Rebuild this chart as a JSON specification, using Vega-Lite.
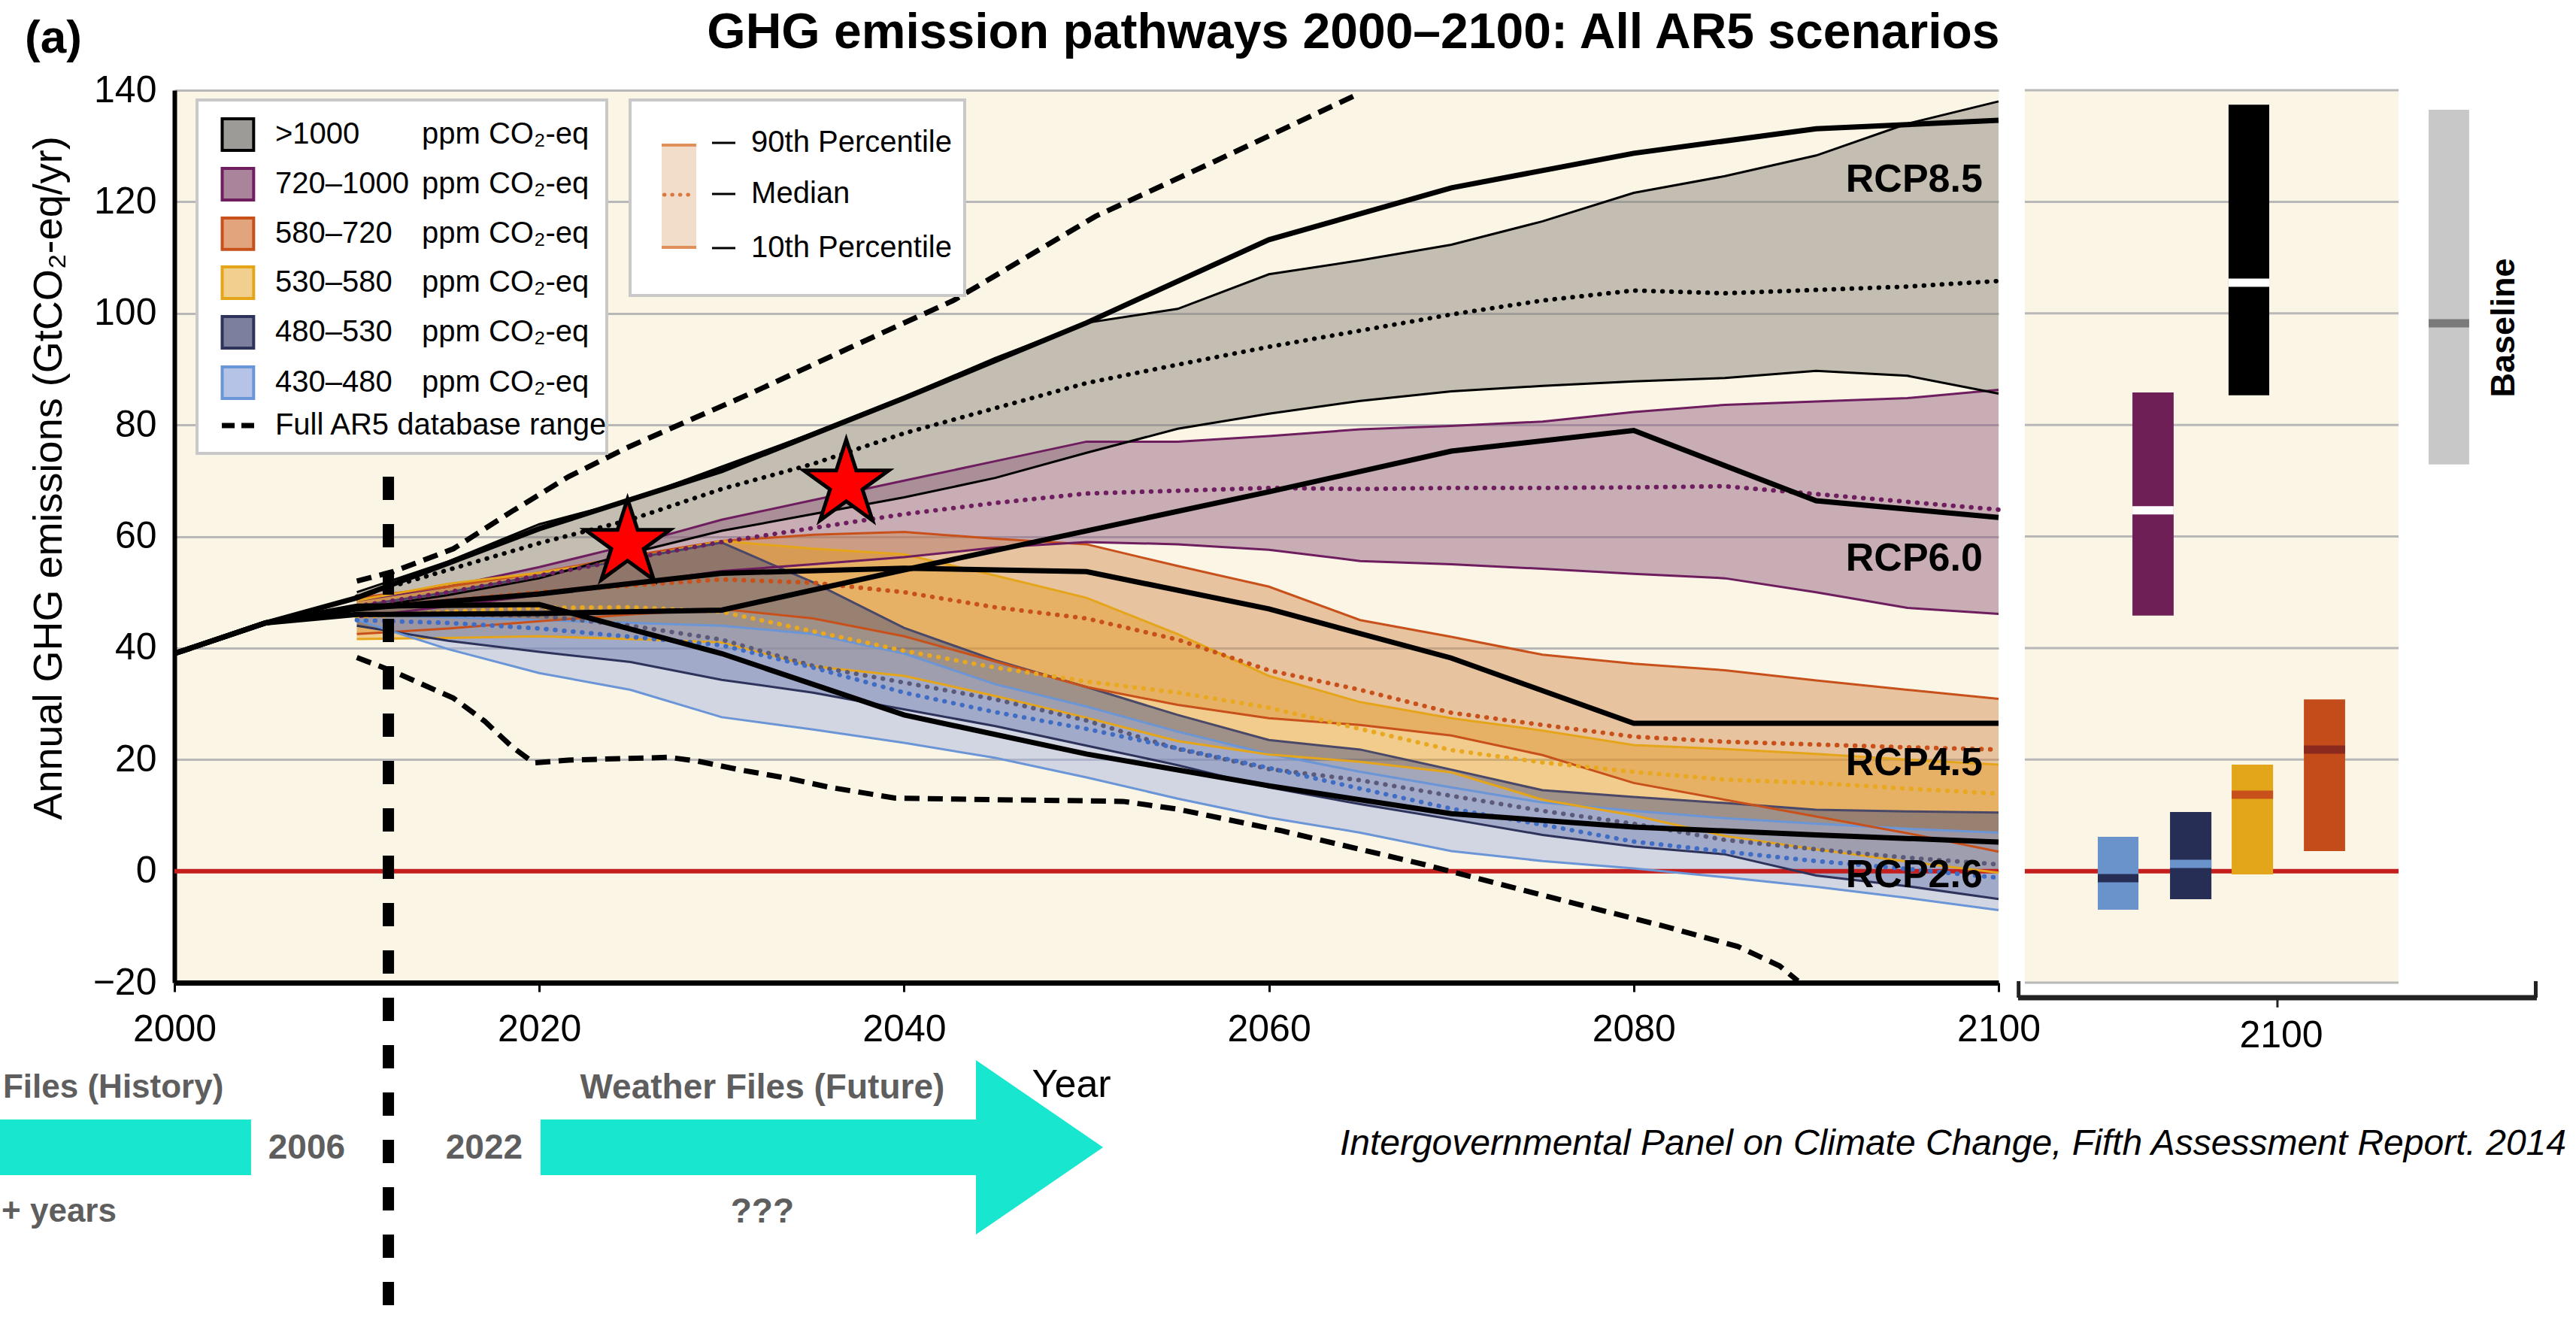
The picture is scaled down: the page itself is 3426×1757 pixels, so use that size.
{
"$schema": "https://vega.github.io/schema/vega-lite/v6.json",
"width": 2426,
"height": 1187,
"autosize": {"type": "none"},
"padding": {"left": 232, "top": 120, "right": 768, "bottom": 450},
"background": "#FFFFFF",
"config": {
  "view": {"fill": "#FBF5E6", "stroke": null},
  "font": "'Liberation Sans', Arial, sans-serif",
  "axisX": {"grid": false, "domainColor": "#000000", "domainWidth": 7, "ticks": true, "tickSize": 12, "tickWidth": 3, "tickColor": "#000000",
    "labelFontSize": 50, "labelPadding": 25, "labelColor": "#000000", "labelFlush": false, "labelOverlap": false, "labelBound": false, "titleFontSize": 1, "titleColor": "#FFFFFF"},
  "axisY": {"grid": true, "gridColor": "#B8B8B8", "gridWidth": 3, "domainColor": "#000000", "domainWidth": 6, "ticks": false, "tickSize": 0,
    "labelFontSize": 50, "labelPadding": 24, "labelColor": "#000000", "labelOverlap": false, "labelFlush": false, "labelBound": false, "titleFontSize": 1, "titleColor": "#FFFFFF"}
},
"datasets": {
"bands": [
{"cat":">1000","year":2010,"lo":47,"med":49.2,"hi":50},
{"cat":">1000","year":2015,"lo":49.5,"med":54,"hi":55.5},
{"cat":">1000","year":2020,"lo":52.5,"med":58.8,"hi":62.2},
{"cat":">1000","year":2025,"lo":57,"med":63,"hi":66.5},
{"cat":">1000","year":2030,"lo":61,"med":68.5,"hi":72.5},
{"cat":">1000","year":2035,"lo":64,"med":73,"hi":78.5},
{"cat":">1000","year":2040,"lo":67,"med":78.5,"hi":85},
{"cat":">1000","year":2045,"lo":70.5,"med":83,"hi":92},
{"cat":">1000","year":2050,"lo":75,"med":87.5,"hi":98.3},
{"cat":">1000","year":2055,"lo":79.3,"med":90.8,"hi":100.8},
{"cat":">1000","year":2060,"lo":82,"med":94,"hi":107},
{"cat":">1000","year":2065,"lo":84.3,"med":96.9,"hi":109.5},
{"cat":">1000","year":2070,"lo":86,"med":99.8,"hi":112.3},
{"cat":">1000","year":2075,"lo":87,"med":102.3,"hi":116.5},
{"cat":">1000","year":2080,"lo":87.8,"med":104.1,"hi":121.6},
{"cat":">1000","year":2085,"lo":88.4,"med":103.6,"hi":124.6},
{"cat":">1000","year":2090,"lo":89.7,"med":104.2,"hi":128.3},
{"cat":">1000","year":2095,"lo":88.8,"med":104.8,"hi":134},
{"cat":">1000","year":2100,"lo":85.6,"med":105.8,"hi":138},
{"cat":"720–1000","year":2010,"lo":45.5,"med":47.5,"hi":48.5},
{"cat":"720–1000","year":2015,"lo":47.5,"med":50,"hi":51},
{"cat":"720–1000","year":2020,"lo":49.5,"med":53,"hi":54.5},
{"cat":"720–1000","year":2025,"lo":51.5,"med":56,"hi":58.5},
{"cat":"720–1000","year":2030,"lo":53.8,"med":59,"hi":63},
{"cat":"720–1000","year":2035,"lo":55,"med":61.5,"hi":66.5},
{"cat":"720–1000","year":2040,"lo":56.3,"med":64,"hi":70},
{"cat":"720–1000","year":2045,"lo":58,"med":66,"hi":73.5},
{"cat":"720–1000","year":2050,"lo":59,"med":67.7,"hi":77},
{"cat":"720–1000","year":2055,"lo":58.6,"med":68.2,"hi":77},
{"cat":"720–1000","year":2060,"lo":57.6,"med":68.7,"hi":78},
{"cat":"720–1000","year":2065,"lo":55.6,"med":68.5,"hi":79.2},
{"cat":"720–1000","year":2070,"lo":55,"med":68.7,"hi":79.8},
{"cat":"720–1000","year":2075,"lo":54.2,"med":68.7,"hi":80.6},
{"cat":"720–1000","year":2080,"lo":53.3,"med":68.8,"hi":82.3},
{"cat":"720–1000","year":2085,"lo":52.5,"med":69,"hi":83.6},
{"cat":"720–1000","year":2090,"lo":50,"med":67.6,"hi":84.2},
{"cat":"720–1000","year":2095,"lo":47.2,"med":66.2,"hi":84.8},
{"cat":"720–1000","year":2100,"lo":46.1,"med":64.8,"hi":86.3},
{"cat":"580–720","year":2010,"lo":42.5,"med":47,"hi":49},
{"cat":"580–720","year":2015,"lo":43.5,"med":48.5,"hi":51},
{"cat":"580–720","year":2020,"lo":44.8,"med":50,"hi":53.5},
{"cat":"580–720","year":2025,"lo":46,"med":51.2,"hi":56.5},
{"cat":"580–720","year":2030,"lo":47,"med":52.3,"hi":59.2},
{"cat":"580–720","year":2035,"lo":45.3,"med":51.7,"hi":60.3},
{"cat":"580–720","year":2040,"lo":42.1,"med":50,"hi":60.8},
{"cat":"580–720","year":2045,"lo":37.6,"med":47.3,"hi":59.6},
{"cat":"580–720","year":2050,"lo":33,"med":45.3,"hi":58.6},
{"cat":"580–720","year":2055,"lo":29.8,"med":41.5,"hi":54.7},
{"cat":"580–720","year":2060,"lo":27.4,"med":36,"hi":51},
{"cat":"580–720","year":2065,"lo":26.2,"med":32.5,"hi":45},
{"cat":"580–720","year":2070,"lo":24.3,"med":28.4,"hi":42},
{"cat":"580–720","year":2075,"lo":20.8,"med":26.2,"hi":38.8},
{"cat":"580–720","year":2080,"lo":15.8,"med":24.1,"hi":37.2},
{"cat":"580–720","year":2085,"lo":12.8,"med":23.2,"hi":36},
{"cat":"580–720","year":2090,"lo":9.8,"med":22.7,"hi":34.2},
{"cat":"580–720","year":2095,"lo":6.8,"med":22.2,"hi":32.5},
{"cat":"580–720","year":2100,"lo":3.5,"med":21.8,"hi":30.9},
{"cat":"530–580","year":2010,"lo":41.6,"med":45.5,"hi":48.5},
{"cat":"530–580","year":2015,"lo":41.8,"med":46.5,"hi":51.5},
{"cat":"530–580","year":2020,"lo":42.1,"med":47.2,"hi":53.5},
{"cat":"530–580","year":2025,"lo":41.6,"med":47.3,"hi":56},
{"cat":"530–580","year":2030,"lo":41,"med":46.5,"hi":59.2},
{"cat":"530–580","year":2035,"lo":36.7,"med":43,"hi":57.8},
{"cat":"530–580","year":2040,"lo":35,"med":39.5,"hi":56.8},
{"cat":"530–580","year":2045,"lo":31.4,"med":36.5,"hi":53},
{"cat":"530–580","year":2050,"lo":27.5,"med":34,"hi":49},
{"cat":"530–580","year":2055,"lo":23.3,"med":32,"hi":42.5},
{"cat":"530–580","year":2060,"lo":20.9,"med":29.3,"hi":35},
{"cat":"530–580","year":2065,"lo":19.6,"med":25.5,"hi":30.3},
{"cat":"530–580","year":2070,"lo":17.7,"med":21.7,"hi":27.4},
{"cat":"530–580","year":2075,"lo":12.8,"med":19.5,"hi":25.2},
{"cat":"530–580","year":2080,"lo":10,"med":17.8,"hi":22.6},
{"cat":"530–580","year":2085,"lo":6.3,"med":16.4,"hi":21.9},
{"cat":"530–580","year":2090,"lo":3.9,"med":15.8,"hi":21},
{"cat":"530–580","year":2095,"lo":1.7,"med":14.8,"hi":20},
{"cat":"530–580","year":2100,"lo":-0.3,"med":13.9,"hi":19.1},
{"cat":"480–530","year":2010,"lo":44,"med":46,"hi":47.5},
{"cat":"480–530","year":2015,"lo":41.3,"med":46,"hi":50},
{"cat":"480–530","year":2020,"lo":39.3,"med":45.8,"hi":53},
{"cat":"480–530","year":2025,"lo":37.5,"med":44,"hi":56},
{"cat":"480–530","year":2030,"lo":34.3,"med":41.5,"hi":58.9},
{"cat":"480–530","year":2035,"lo":32,"med":36.8,"hi":51.8},
{"cat":"480–530","year":2040,"lo":29,"med":33.8,"hi":43.6},
{"cat":"480–530","year":2045,"lo":26,"med":30.8,"hi":37.8},
{"cat":"480–530","year":2050,"lo":22.5,"med":27,"hi":33},
{"cat":"480–530","year":2055,"lo":19,"med":21.9,"hi":28},
{"cat":"480–530","year":2060,"lo":15,"med":18.3,"hi":23.5},
{"cat":"480–530","year":2065,"lo":12,"med":16.3,"hi":21.8},
{"cat":"480–530","year":2070,"lo":9.3,"med":13.5,"hi":18.2},
{"cat":"480–530","year":2075,"lo":6.5,"med":10.8,"hi":14.5},
{"cat":"480–530","year":2080,"lo":4.4,"med":8.5,"hi":13.3},
{"cat":"480–530","year":2085,"lo":3,"med":5.6,"hi":12.2},
{"cat":"480–530","year":2090,"lo":-0.8,"med":3.9,"hi":11},
{"cat":"480–530","year":2095,"lo":-2.7,"med":2.4,"hi":10.7},
{"cat":"480–530","year":2100,"lo":-5,"med":1.2,"hi":10.5},
{"cat":"430–480","year":2010,"lo":45,"med":45,"hi":46},
{"cat":"430–480","year":2015,"lo":39.8,"med":44.5,"hi":45.5},
{"cat":"430–480","year":2020,"lo":35.5,"med":43.5,"hi":45},
{"cat":"430–480","year":2025,"lo":32.5,"med":42,"hi":44.5},
{"cat":"430–480","year":2030,"lo":27.6,"med":40.5,"hi":44},
{"cat":"430–480","year":2035,"lo":25.4,"med":36.5,"hi":42.5},
{"cat":"430–480","year":2040,"lo":23,"med":32,"hi":39},
{"cat":"430–480","year":2045,"lo":20.3,"med":28.5,"hi":33.5},
{"cat":"430–480","year":2050,"lo":16.8,"med":25.5,"hi":29.5},
{"cat":"430–480","year":2055,"lo":13,"med":22,"hi":25},
{"cat":"430–480","year":2060,"lo":9.6,"med":18.5,"hi":21},
{"cat":"430–480","year":2065,"lo":6.9,"med":14.8,"hi":17.8},
{"cat":"430–480","year":2070,"lo":3.6,"med":11.2,"hi":15},
{"cat":"430–480","year":2075,"lo":1.8,"med":8.3,"hi":12.3},
{"cat":"430–480","year":2080,"lo":0.5,"med":5.3,"hi":10.8},
{"cat":"430–480","year":2085,"lo":-1.1,"med":3.5,"hi":9.5},
{"cat":"430–480","year":2090,"lo":-2.8,"med":1.8,"hi":8.5},
{"cat":"430–480","year":2095,"lo":-4.8,"med":0.4,"hi":7.6},
{"cat":"430–480","year":2100,"lo":-7,"med":-1.2,"hi":6.9}
],
"rcp": [
{"rcp":"RCP8.5","year":2000,"v":39},{"rcp":"RCP8.5","year":2005,"v":44.5},{"rcp":"RCP8.5","year":2010,"v":49},{"rcp":"RCP8.5","year":2020,"v":61.4},{"rcp":"RCP8.5","year":2030,"v":71.8},{"rcp":"RCP8.5","year":2040,"v":84.8},{"rcp":"RCP8.5","year":2050,"v":98.3},{"rcp":"RCP8.5","year":2060,"v":113.2},{"rcp":"RCP8.5","year":2070,"v":122.5},{"rcp":"RCP8.5","year":2080,"v":128.7},{"rcp":"RCP8.5","year":2090,"v":133.1},{"rcp":"RCP8.5","year":2100,"v":134.6},
{"rcp":"RCP6.0","year":2000,"v":39},{"rcp":"RCP6.0","year":2005,"v":44.5},{"rcp":"RCP6.0","year":2010,"v":46},{"rcp":"RCP6.0","year":2020,"v":46.2},{"rcp":"RCP6.0","year":2030,"v":46.8},{"rcp":"RCP6.0","year":2040,"v":54},{"rcp":"RCP6.0","year":2050,"v":61},{"rcp":"RCP6.0","year":2060,"v":68},{"rcp":"RCP6.0","year":2070,"v":75.3},{"rcp":"RCP6.0","year":2080,"v":79},{"rcp":"RCP6.0","year":2090,"v":66.4},{"rcp":"RCP6.0","year":2100,"v":63.4},
{"rcp":"RCP4.5","year":2000,"v":39},{"rcp":"RCP4.5","year":2005,"v":44.5},{"rcp":"RCP4.5","year":2010,"v":47},{"rcp":"RCP4.5","year":2020,"v":49.7},{"rcp":"RCP4.5","year":2030,"v":53.4},{"rcp":"RCP4.5","year":2040,"v":54.3},{"rcp":"RCP4.5","year":2050,"v":53.7},{"rcp":"RCP4.5","year":2060,"v":47},{"rcp":"RCP4.5","year":2070,"v":38.2},{"rcp":"RCP4.5","year":2080,"v":26.5},{"rcp":"RCP4.5","year":2090,"v":26.5},{"rcp":"RCP4.5","year":2100,"v":26.5},
{"rcp":"RCP2.6","year":2000,"v":39},{"rcp":"RCP2.6","year":2005,"v":44.5},{"rcp":"RCP2.6","year":2010,"v":47.5},{"rcp":"RCP2.6","year":2020,"v":47.8},{"rcp":"RCP2.6","year":2030,"v":39},{"rcp":"RCP2.6","year":2040,"v":28},{"rcp":"RCP2.6","year":2050,"v":21},{"rcp":"RCP2.6","year":2060,"v":15.3},{"rcp":"RCP2.6","year":2070,"v":10.3},{"rcp":"RCP2.6","year":2080,"v":7.9},{"rcp":"RCP2.6","year":2090,"v":6.5},{"rcp":"RCP2.6","year":2100,"v":5.2}
],
"ar5": [
{"side":"upper","year":2010,"v":52},{"side":"upper","year":2012,"v":53.7},{"side":"upper","year":2015.3,"v":57.8},{"side":"upper","year":2018.5,"v":64.5},{"side":"upper","year":2021.6,"v":70.7},{"side":"upper","year":2024.8,"v":75.9},{"side":"upper","year":2028,"v":80.5},{"side":"upper","year":2031.7,"v":85.8},{"side":"upper","year":2037,"v":93.8},{"side":"upper","year":2042.7,"v":102.3},{"side":"upper","year":2050.5,"v":117.4},{"side":"upper","year":2057,"v":127.2},{"side":"upper","year":2065,"v":139.5},
{"side":"lower","year":2010,"v":38.3},{"side":"lower","year":2012,"v":35.8},{"side":"lower","year":2015.3,"v":31},{"side":"lower","year":2017,"v":26.9},{"side":"lower","year":2018.5,"v":22.3},{"side":"lower","year":2019.7,"v":19.4},{"side":"lower","year":2021.6,"v":19.9},{"side":"lower","year":2024.8,"v":20.2},{"side":"lower","year":2027.1,"v":20.4},{"side":"lower","year":2028.7,"v":19.7},{"side":"lower","year":2031.1,"v":18.1},{"side":"lower","year":2033.7,"v":16.6},{"side":"lower","year":2035.8,"v":15.1},{"side":"lower","year":2039.5,"v":13.1},{"side":"lower","year":2045,"v":12.8},{"side":"lower","year":2050,"v":12.6},{"side":"lower","year":2052,"v":12.5},{"side":"lower","year":2055,"v":11.1},{"side":"lower","year":2060.6,"v":7.3},{"side":"lower","year":2068.5,"v":1.2},{"side":"lower","year":2077,"v":-6},{"side":"lower","year":2081.7,"v":-9.9},{"side":"lower","year":2085.7,"v":-13.5},{"side":"lower","year":2088,"v":-17},{"side":"lower","year":2089,"v":-19.7}
],
"stars": [{"year":2024.84,"v":58.71},{"year":2036.83,"v":69.36}],
"rgrid": [{"g":-20},{"g":20},{"g":40},{"g":60},{"g":80},{"g":100},{"g":120},{"g":140}],
"bars": [
{"cat":"430–480","p1":2105.44,"p2":2107.67,"lo":-6.92,"hi":6.15,"med":-1.26},
{"cat":"480–530","p1":2109.4,"p2":2111.67,"lo":-5.03,"hi":10.6,"med":1.3},
{"cat":"530–580","p1":2112.78,"p2":2115.05,"lo":-0.6,"hi":19.1,"med":13.7},
{"cat":"580–720","p1":2116.74,"p2":2119.0,"lo":3.6,"hi":30.8,"med":21.8},
{"cat":"720–1000","p1":2107.34,"p2":2109.6,"lo":45.8,"hi":85.8,"med":64.7},
{"cat":">1000","p1":2112.61,"p2":2114.84,"lo":85.3,"hi":137.4,"med":105.5},
{"cat":"Baseline","p1":2123.58,"p2":2125.8,"lo":72.9,"hi":136.5,"med":98.2}
],
"leg1": [
{"cat":">1000","ly":132.05},{"cat":"720–1000","ly":123.15},{"cat":"580–720","ly":114.26},{"cat":"530–580","ly":105.49},{"cat":"480–530","ly":96.6},{"cat":"430–480","ly":87.57}
],
"leg2": [{"label":"90th Percentile","ly":130.56},{"label":"Median","ly":121.4},{"label":"10th Percentile","ly":111.7}],
"rcplab": [{"label":"RCP8.5","ly":124.0},{"label":"RCP6.0","ly":56.0},{"label":"RCP4.5","ly":19.4},{"label":"RCP2.6","ly":-0.7}],
"arrowhead": [{"ax":2043.94,"at":-33.88,"ab":-65.15},{"ax":2050.91,"at":-49.51,"ab":-49.51}],
"graytextc": [{"t":"Weather Files (Future)","tx":2032.23,"ty":-38.87},{"t":"2006","tx":2007.25,"ty":-49.65},{"t":"2022","tx":2016.98,"ty":-49.65},{"t":"???","tx":2032.23,"ty":-61.1}],
"graytextl": [{"t":"Files (History)","tx":1990.6,"ty":-38.87},{"t":"+ years","tx":1990.52,"ty":-61.1}]
},
"layer": [
{
 "data": {"name": "bands"},
 "mark": {"type": "area", "fillOpacity": 0.45},
 "encoding": {
  "x": {"field": "year", "type": "quantitative",
   "scale": {"domain": [2000, 2100], "nice": false, "zero": false},
   "axis": {"title": null, "values": [2000, 2020, 2040, 2060, 2080, 2100], "format": "d", "grid": false}},
  "y": {"field": "lo", "type": "quantitative",
   "scale": {"domain": [-20, 140], "nice": false, "zero": false},
   "axis": {"title": null, "values": [-20, 0, 20, 40, 60, 80, 100, 120, 140], "format": "d", "grid": true}},
  "y2": {"field": "hi"},
  "fill": {"field": "cat", "type": "nominal", "legend": null,
   "scale": {"domain": [">1000", "720–1000", "580–720", "530–580", "480–530", "430–480"],
    "range": ["#807C74", "#8C5779", "#D1884A", "#E79C1E", "#3A4682", "#A0B0DD"]}}
 }
},
{
 "data": {"values": [{}]},
 "mark": {"type": "rule", "color": "#C41F1E", "strokeWidth": 6},
 "encoding": {
  "x": {"datum": 2000, "type": "quantitative"},
  "x2": {"datum": 2100},
  "y": {"datum": 0, "type": "quantitative"}
 }
},
{
 "data": {"name": "bands"},
 "mark": {"type": "line", "strokeWidth": 3},
 "encoding": {
  "x": {"field": "year", "type": "quantitative"},
  "y": {"field": "hi", "type": "quantitative"},
  "stroke": {"field": "cat", "type": "nominal", "legend": null,
   "scale": {"domain": [">1000", "720–1000", "580–720", "530–580", "480–530", "430–480"],
    "range": ["#000000", "#6E1E5E", "#C8501B", "#E5A51A", "#4A4868", "#6A95D6"]}}
 }
},
{
 "data": {"name": "bands"},
 "mark": {"type": "line", "strokeWidth": 3},
 "encoding": {
  "x": {"field": "year", "type": "quantitative"},
  "y": {"field": "lo", "type": "quantitative"},
  "stroke": {"field": "cat", "type": "nominal", "legend": null,
   "scale": {"domain": [">1000", "720–1000", "580–720", "530–580", "480–530", "430–480"],
    "range": ["#000000", "#6E1E5E", "#C8501B", "#E5A51A", "#2D335A", "#6A95D6"]}}
 }
},
{
 "data": {"name": "bands"},
 "mark": {"type": "line", "strokeWidth": 6, "strokeDash": [0.5, 11.5], "strokeCap": "round"},
 "encoding": {
  "x": {"field": "year", "type": "quantitative"},
  "y": {"field": "med", "type": "quantitative"},
  "stroke": {"field": "cat", "type": "nominal", "legend": null,
   "scale": {"domain": [">1000", "720–1000", "580–720", "530–580", "480–530", "430–480"],
    "range": ["#000000", "#6E1E5E", "#C8501B", "#E8A820", "#5B5A78", "#3F6CC4"]}}
 }
},
{
 "data": {"name": "ar5"},
 "mark": {"type": "line", "color": "#000000", "strokeWidth": 7, "strokeDash": [20, 11]},
 "encoding": {
  "x": {"field": "year", "type": "quantitative"},
  "y": {"field": "v", "type": "quantitative"},
  "detail": {"field": "side", "type": "nominal"}
 }
},
{
 "data": {"name": "rcp"},
 "mark": {"type": "line", "color": "#000000", "strokeWidth": 7},
 "encoding": {
  "x": {"field": "year", "type": "quantitative"},
  "y": {"field": "v", "type": "quantitative"},
  "detail": {"field": "rcp", "type": "nominal"}
 }
},
{
 "data": {"values": [{}]},
 "mark": {"type": "rule", "color": "#000000", "strokeWidth": 15, "strokeDash": [31, 32]},
 "encoding": {
  "x": {"datum": 2011.73, "type": "quantitative"},
  "y": {"datum": 70.7, "type": "quantitative"},
  "y2": {"datum": -80.6}
 }
},
{
 "data": {"name": "stars"},
 "mark": {"type": "point", "filled": true, "fill": "#FF0000", "stroke": "#000000", "strokeWidth": 5, "opacity": 1, "size": 14100,
  "shape": "M0,-1L0.2245,-0.309L0.951,-0.309L0.3633,0.118L0.5878,0.809L0,0.382L-0.5878,0.809L-0.3633,0.118L-0.951,-0.309L-0.2245,-0.309Z"},
 "encoding": {
  "x": {"field": "year", "type": "quantitative"},
  "y": {"field": "v", "type": "quantitative"}
 }
},
{
 "data": {"values": [{}]},
 "mark": {"type": "rect", "fill": "#FBF5E6"},
 "encoding": {
  "x": {"datum": 2101.44, "type": "quantitative"},
  "x2": {"datum": 2121.93},
  "y": {"datum": -20, "type": "quantitative"},
  "y2": {"datum": 140}
 }
},
{
 "data": {"name": "rgrid"},
 "mark": {"type": "rule", "color": "#B8B8B8", "strokeWidth": 3},
 "encoding": {
  "x": {"datum": 2101.44, "type": "quantitative"},
  "x2": {"datum": 2121.93},
  "y": {"field": "g", "type": "quantitative"}
 }
},
{
 "data": {"values": [{}]},
 "mark": {"type": "rule", "color": "#C41F1E", "strokeWidth": 6},
 "encoding": {
  "x": {"datum": 2101.44, "type": "quantitative"},
  "x2": {"datum": 2121.93},
  "y": {"datum": 0, "type": "quantitative"}
 }
},
{
 "data": {"name": "bars"},
 "mark": {"type": "rect"},
 "encoding": {
  "x": {"field": "p1", "type": "quantitative"},
  "x2": {"field": "p2"},
  "y": {"field": "lo", "type": "quantitative"},
  "y2": {"field": "hi"},
  "color": {"field": "cat", "type": "nominal", "legend": null,
   "scale": {"domain": ["430–480", "480–530", "530–580", "580–720", "720–1000", ">1000", "Baseline"],
    "range": ["#6A93CC", "#262E55", "#E3A61B", "#C44B1A", "#6E1F56", "#000000", "#C8C8C8"]}}
 }
},
{
 "data": {"name": "bars"},
 "mark": {"type": "rule", "strokeWidth": 11},
 "encoding": {
  "x": {"field": "p1", "type": "quantitative"},
  "x2": {"field": "p2"},
  "y": {"field": "med", "type": "quantitative"},
  "color": {"field": "cat", "type": "nominal", "legend": null,
   "scale": {"domain": ["430–480", "480–530", "530–580", "580–720", "720–1000", ">1000", "Baseline"],
    "range": ["#262E55", "#6A93CC", "#C8501B", "#8A2A1E", "#FFFFFF", "#FFFFFF", "#7A7A7A"]}}
 }
},
{
 "data": {"values": [{}]},
 "mark": {"type": "text", "text": "Baseline", "fontSize": 45, "fontWeight": "bold", "angle": 270, "align": "center", "baseline": "middle", "color": "#000000"},
 "encoding": {
  "x": {"datum": 2127.7, "type": "quantitative"},
  "y": {"datum": 97.4, "type": "quantitative"}
 }
},
{
 "data": {"values": [{}]},
 "mark": {"type": "rule", "color": "#222222", "strokeWidth": 7},
 "encoding": {
  "x": {"datum": 2101.07, "type": "quantitative"},
  "x2": {"datum": 2129.51},
  "y": {"datum": -22.69, "type": "quantitative"}
 }
},
{
 "data": {"values": [{}]},
 "mark": {"type": "rule", "color": "#222222", "strokeWidth": 5},
 "encoding": {
  "x": {"datum": 2101.1, "type": "quantitative"},
  "y": {"datum": -22.69, "type": "quantitative"},
  "y2": {"datum": -19.72}
 }
},
{
 "data": {"values": [{}]},
 "mark": {"type": "rule", "color": "#222222", "strokeWidth": 5},
 "encoding": {
  "x": {"datum": 2129.45, "type": "quantitative"},
  "y": {"datum": -22.69, "type": "quantitative"},
  "y2": {"datum": -19.72}
 }
},
{
 "data": {"values": [{}]},
 "mark": {"type": "rule", "color": "#222222", "strokeWidth": 3},
 "encoding": {
  "x": {"datum": 2115.29, "type": "quantitative"},
  "y": {"datum": -22.69, "type": "quantitative"},
  "y2": {"datum": -24.44}
 }
},
{
 "data": {"values": [{}]},
 "mark": {"type": "text", "text": "2100", "fontSize": 50, "align": "center", "baseline": "middle", "color": "#000000"},
 "encoding": {
  "x": {"datum": 2115.5, "type": "quantitative"},
  "y": {"datum": -29.6, "type": "quantitative"}
 }
},
{
 "data": {"values": [{}]},
 "mark": {"type": "rect", "fill": "#FFFFFF", "stroke": "#C8C8C8", "strokeWidth": 4},
 "encoding": {
  "x": {"datum": 2001.24, "type": "quantitative"},
  "x2": {"datum": 2023.7},
  "y": {"datum": 138.25, "type": "quantitative"},
  "y2": {"datum": 74.9}
 }
},
{
 "data": {"name": "leg1"},
 "mark": {"type": "point", "shape": "square", "filled": true, "size": 1750, "strokeWidth": 4, "opacity": 1},
 "encoding": {
  "x": {"datum": 2003.48, "type": "quantitative"},
  "y": {"field": "ly", "type": "quantitative"},
  "fill": {"field": "cat", "type": "nominal", "legend": null,
   "scale": {"domain": [">1000", "720–1000", "580–720", "530–580", "480–530", "430–480"],
    "range": ["#9D9B98", "#A9849A", "#E2A47D", "#F1CF8E", "#7C7F9E", "#B5C4E6"]}},
  "stroke": {"field": "cat", "type": "nominal", "legend": null,
   "scale": {"domain": [">1000", "720–1000", "580–720", "530–580", "480–530", "430–480"],
    "range": ["#000000", "#6E1E5E", "#C8501B", "#E5A51A", "#2D335A", "#6A95D6"]}}
 }
},
{
 "data": {"name": "leg1"},
 "mark": {"type": "text", "fontSize": 40, "align": "left", "baseline": "middle", "color": "#000000"},
 "encoding": {
  "x": {"datum": 2005.52, "type": "quantitative"},
  "y": {"field": "ly", "type": "quantitative"},
  "text": {"field": "cat", "type": "nominal"}
 }
},
{
 "data": {"name": "leg1"},
 "mark": {"type": "text", "text": "ppm CO₂-eq", "fontSize": 40, "align": "left", "baseline": "middle", "color": "#000000"},
 "encoding": {
  "x": {"datum": 2013.56, "type": "quantitative"},
  "y": {"field": "ly", "type": "quantitative"}
 }
},
{
 "data": {"values": [{}]},
 "mark": {"type": "rule", "color": "#000000", "strokeWidth": 7, "strokeDash": [17, 9]},
 "encoding": {
  "x": {"datum": 2002.6, "type": "quantitative"},
  "x2": {"datum": 2004.37},
  "y": {"datum": 79.88, "type": "quantitative"}
 }
},
{
 "data": {"values": [{}]},
 "mark": {"type": "text", "text": "Full AR5 database range", "fontSize": 40, "align": "left", "baseline": "middle", "color": "#000000"},
 "encoding": {
  "x": {"datum": 2005.52, "type": "quantitative"},
  "y": {"datum": 79.88, "type": "quantitative"}
 }
},
{
 "data": {"values": [{}]},
 "mark": {"type": "rect", "fill": "#FFFFFF", "stroke": "#C8C8C8", "strokeWidth": 4},
 "encoding": {
  "x": {"datum": 2024.98, "type": "quantitative"},
  "x2": {"datum": 2043.32},
  "y": {"datum": 138.25, "type": "quantitative"},
  "y2": {"datum": 103.2}
 }
},
{
 "data": {"values": [{}]},
 "mark": {"type": "rect", "fill": "#F2DCCA"},
 "encoding": {
  "x": {"datum": 2026.71, "type": "quantitative"},
  "x2": {"datum": 2028.61},
  "y": {"datum": 130.16, "type": "quantitative"},
  "y2": {"datum": 111.83}
 }
},
{
 "data": {"values": [{}]},
 "mark": {"type": "rule", "color": "#E0905A", "strokeWidth": 4},
 "encoding": {
  "x": {"datum": 2026.71, "type": "quantitative"},
  "x2": {"datum": 2028.61},
  "y": {"datum": 130.16, "type": "quantitative"}
 }
},
{
 "data": {"values": [{}]},
 "mark": {"type": "rule", "color": "#E0905A", "strokeWidth": 4},
 "encoding": {
  "x": {"datum": 2026.71, "type": "quantitative"},
  "x2": {"datum": 2028.61},
  "y": {"datum": 111.83, "type": "quantitative"}
 }
},
{
 "data": {"values": [{}]},
 "mark": {"type": "rule", "color": "#D9783F", "strokeWidth": 5, "strokeDash": [0.5, 10], "strokeCap": "round"},
 "encoding": {
  "x": {"datum": 2026.85, "type": "quantitative"},
  "x2": {"datum": 2028.5},
  "y": {"datum": 121.26, "type": "quantitative"}
 }
},
{
 "data": {"name": "leg2"},
 "mark": {"type": "rule", "color": "#000000", "strokeWidth": 3},
 "encoding": {
  "x": {"datum": 2029.47, "type": "quantitative"},
  "x2": {"datum": 2030.75},
  "y": {"field": "ly", "type": "quantitative"}
 }
},
{
 "data": {"name": "leg2"},
 "mark": {"type": "text", "fontSize": 40, "align": "left", "baseline": "middle", "color": "#000000"},
 "encoding": {
  "x": {"datum": 2031.62, "type": "quantitative"},
  "y": {"field": "ly", "type": "quantitative"},
  "text": {"field": "label", "type": "nominal"}
 }
},
{
 "data": {"name": "rcplab"},
 "mark": {"type": "text", "fontSize": 52, "fontWeight": "bold", "align": "right", "baseline": "middle", "color": "#000000"},
 "encoding": {
  "x": {"datum": 2099.13, "type": "quantitative"},
  "y": {"field": "ly", "type": "quantitative"},
  "text": {"field": "label", "type": "nominal"}
 }
},
{
 "data": {"values": [{}]},
 "mark": {"type": "text", "text": "GHG emission pathways 2000–2100: All AR5 scenarios", "fontSize": 66, "fontWeight": "bold", "align": "center", "baseline": "middle", "color": "#000000"},
 "encoding": {
  "x": {"datum": 2064.63, "type": "quantitative"},
  "y": {"datum": 150.24, "type": "quantitative"}
 }
},
{
 "data": {"values": [{}]},
 "mark": {"type": "text", "text": "(a)", "fontSize": 62, "fontWeight": "bold", "align": "center", "baseline": "middle", "color": "#000000"},
 "encoding": {
  "x": {"datum": 1993.36, "type": "quantitative"},
  "y": {"datum": 149.3, "type": "quantitative"}
 }
},
{
 "data": {"values": [{}]},
 "mark": {"type": "text", "text": "Annual GHG emissions (GtCO₂-eq/yr)", "fontSize": 54, "angle": 270, "align": "center", "baseline": "middle", "color": "#000000"},
 "encoding": {
  "x": {"datum": 1993.16, "type": "quantitative"},
  "y": {"datum": 70.45, "type": "quantitative"}
 }
},
{
 "data": {"values": [{}]},
 "mark": {"type": "rect", "fill": "#19E6CF"},
 "encoding": {
  "x": {"datum": 1990.0, "type": "quantitative"},
  "x2": {"datum": 2004.2},
  "y": {"datum": -44.53, "type": "quantitative"},
  "y2": {"datum": -54.5}
 }
},
{
 "data": {"values": [{}]},
 "mark": {"type": "rect", "fill": "#19E6CF"},
 "encoding": {
  "x": {"datum": 2020.07, "type": "quantitative"},
  "x2": {"datum": 2044.0},
  "y": {"datum": -44.53, "type": "quantitative"},
  "y2": {"datum": -54.5}
 }
},
{
 "data": {"name": "arrowhead"},
 "mark": {"type": "area", "fill": "#19E6CF", "opacity": 1},
 "encoding": {
  "x": {"field": "ax", "type": "quantitative"},
  "y": {"field": "at", "type": "quantitative"},
  "y2": {"field": "ab"}
 }
},
{
 "data": {"name": "graytextc"},
 "mark": {"type": "text", "fontSize": 46, "fontWeight": "bold", "align": "center", "baseline": "middle", "color": "#5E5E5E"},
 "encoding": {
  "x": {"field": "tx", "type": "quantitative"},
  "y": {"field": "ty", "type": "quantitative"},
  "text": {"field": "t", "type": "nominal"}
 }
},
{
 "data": {"name": "graytextl"},
 "mark": {"type": "text", "fontSize": 44, "fontWeight": "bold", "align": "left", "baseline": "middle", "color": "#5E5E5E"},
 "encoding": {
  "x": {"field": "tx", "type": "quantitative"},
  "y": {"field": "ty", "type": "quantitative"},
  "text": {"field": "t", "type": "nominal"}
 }
},
{
 "data": {"values": [{}]},
 "mark": {"type": "text", "text": "Year", "fontSize": 52, "align": "center", "baseline": "middle", "color": "#000000"},
 "encoding": {
  "x": {"datum": 2049.18, "type": "quantitative"},
  "y": {"datum": -38.33, "type": "quantitative"}
 }
},
{
 "data": {"values": [{}]},
 "mark": {"type": "text", "text": "Intergovernmental Panel on Climate Change, Fifth Assessment Report. 2014", "fontSize": 48, "fontStyle": "italic", "align": "right", "baseline": "middle", "color": "#000000"},
 "encoding": {
  "x": {"datum": 2131.12, "type": "quantitative"},
  "y": {"datum": -48.97, "type": "quantitative"}
 }
}
],
"resolve": {"scale": {"fill": "independent", "stroke": "independent", "color": "independent"}}
}
